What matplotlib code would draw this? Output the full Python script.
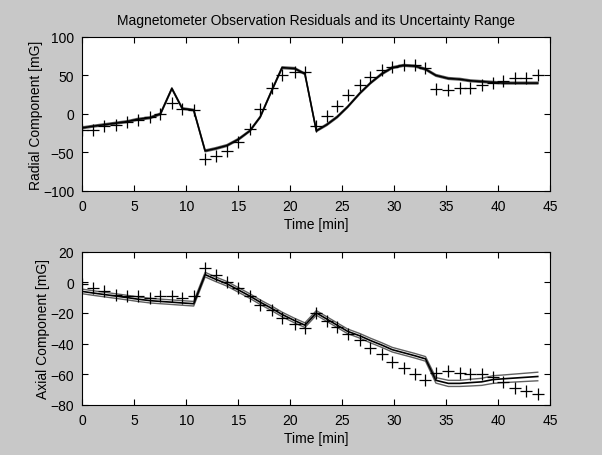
import matplotlib
matplotlib.use("Agg")
import matplotlib.pyplot as plt
import numpy as np

plt.rcParams['font.family'] = ['Liberation Sans', 'DejaVu Sans']

# Sample times [min]
t = [0.0, 1.0, 2.1, 3.2, 4.3, 5.3, 6.5, 7.5, 8.6, 9.6, 10.7, 11.8, 12.8, 13.9,
     15.0, 16.1, 17.1, 18.2, 19.2, 20.4, 21.4, 22.5, 23.5, 24.5, 25.5, 26.7,
     27.7, 28.8, 29.8, 30.9, 32.0, 33.0, 34.0, 35.2, 36.3, 37.3, 38.4, 39.5,
     40.5, 41.6, 42.7, 43.8]

# Radial component: observed residuals (markers)
radial_obs = [-21, -21, -16, -15, -10, -8, -4, 0, 14, 7, 5, -59, -54, -48,
              -37, -19, 6, 33, 51, 55, 54, -16, -3, 10, 25, 38,
              48, 57, 61, 63, 63, 59, 32, 31, 33, 34, 37, 40,
              43, 46, 47, 50]
# Radial component: estimate (line) and half-width of uncertainty
radial_est = [-18, -16, -14, -12, -10, -7, -5, 0, 33, 7, 5, -48, -45, -41,
              -33, -22, -4, 30, 60, 59, 52, -22, -14, -4, 9, 27,
              40, 52, 60, 63, 62, 58, 50, 46, 45, 43, 42, 41,
              40, 40, 40, 40]
radial_unc = [1.2, 1.2, 1.2, 1.2, 1.2, 1.2, 1.2, 1.2, 1.0, 1.0, 1.0, 1.2, 1.2, 1.2,
              1.2, 1.0, 1.0, 1.0, 1.2, 1.2, 1.0, 1.0, 1.2, 1.2, 1.0, 1.0,
              1.0, 1.2, 1.2, 1.2, 1.2, 1.2, 1.2, 1.2, 1.2, 1.2, 1.2, 1.2,
              1.2, 1.2, 1.2, 1.2]

# Axial component: observed residuals (markers)
axial_obs = [-1, -4, -6, -8, -9, -9, -10, -9, -9, -10, -9, 9, 5, 0,
             -4, -9, -15, -18, -23, -27, -30, -20, -25, -29, -34, -38,
             -43, -47, -52, -56, -60, -64, -59, -58, -59, -60, -60, -62,
             -65, -69, -71, -73]
# Axial component: estimate (line) and half-width of uncertainty
axial_est = [-6, -7, -8, -9, -10, -11, -12, -12.5, -13, -13.5, -14, 5, 2, -1,
             -5, -9, -13, -17, -21, -25, -28, -20, -24, -28, -32, -35,
             -38, -41, -44, -46, -48, -50, -64, -66, -66, -65.5, -65, -63.5,
             -63, -62.5, -62, -61.5]
axial_unc = [1.5, 1.5, 1.5, 1.5, 1.5, 1.5, 1.5, 1.5, 1.5, 1.5, 1.5, 1.5, 1.5, 1.5,
             1.5, 1.5, 1.5, 1.5, 1.5, 1.5, 1.5, 1.5, 1.5, 1.5, 1.5, 1.5,
             1.5, 1.5, 1.5, 1.5, 1.5, 1.5, 1.8, 2.0, 2.0, 2.2, 2.3, 2.5,
             2.5, 2.6, 2.7, 2.8]

bg = '#c8c8c8'
fig = plt.figure(figsize=(6.02, 4.56), dpi=100, facecolor=bg)

def panel(rect, obs, est, unc, ylim, yticks, ylabel):
    ax = fig.add_axes(rect)
    ax.set_facecolor('white')
    tt = np.array(t)
    e = np.array(est)
    u = np.array(unc)
    ax.plot(tt, e + u, color='#606060', lw=1.0)
    ax.plot(tt, e - u, color='#606060', lw=1.0)
    ax.plot(tt, e, color='black', lw=1.2)
    ax.plot(tt, obs, linestyle='none', marker='+', color='black',
            markersize=8, markeredgewidth=0.9)
    ax.set_xlim(0, 45)
    ax.set_ylim(*ylim)
    ax.set_xticks(range(0, 46, 5))
    ax.set_yticks(yticks)
    ax.tick_params(direction='in', top=True, right=True, length=4,
                   labelsize=10, width=0.8, pad=6)
    for s in ax.spines.values():
        s.set_linewidth(0.8)
    ax.set_xlabel('Time [min]', fontsize=10, labelpad=3)
    ax.set_ylabel(ylabel, fontsize=10, labelpad=0)
    return ax

ax1 = panel([0.137, 0.579, 0.777, 0.338], radial_obs, radial_est, radial_unc,
            (-100, 100), [-100, -50, 0, 50, 100], 'Radial Component [mG]')
ax1.set_title('Magnetometer Observation Residuals and its Uncertainty Range',
              fontsize=10, pad=9)
ax2 = panel([0.137, 0.110, 0.777, 0.336], axial_obs, axial_est, axial_unc,
            (-80, 20), [-80, -60, -40, -20, 0, 20], 'Axial Component [mG]')

fig.savefig('out.png', dpi=100, facecolor=bg)
